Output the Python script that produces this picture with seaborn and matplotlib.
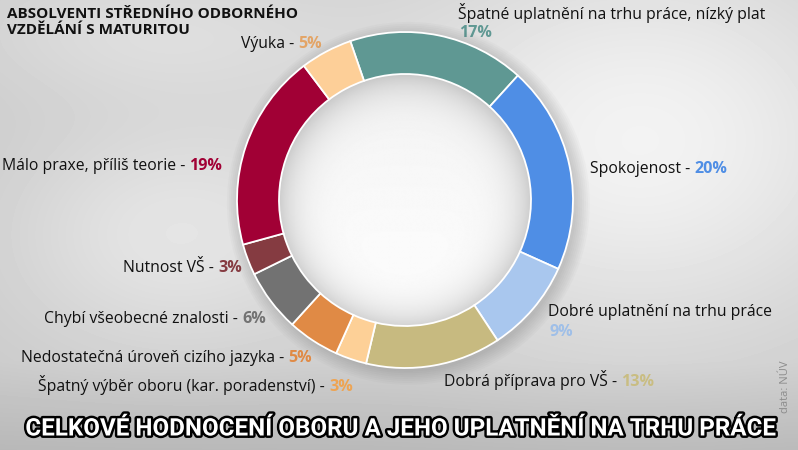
import numpy as np
import matplotlib
matplotlib.use("Agg")
import matplotlib.pyplot as plt
import matplotlib.patheffects as pe
from matplotlib.patches import Circle
import seaborn as sns

# ---------------- data ----------------
categories = [
    "Špatné uplatnění na trhu práce, nízký plat",
    "Spokojenost",
    "Dobré uplatnění na trhu práce",
    "Dobrá příprava pro VŠ",
    "Špatný výběr oboru (kar. poradenství)",
    "Nedostatečná úroveň cizího jazyka",
    "Chybí všeobecné znalosti",
    "Nutnost VŠ",
    "Málo praxe, příliš teorie",
    "Výuka",
]
values = [17, 20, 9, 13, 3, 5, 6, 3, 19, 5]
wedge_colors = ["#5f9893", "#4f8ee5", "#a9c7ee", "#c7ba80", "#fdd097",
                "#e08a45", "#727272", "#853b41", "#a10035", "#fdcf98"]
pct_colors = ["#5f9893", "#4f8ee5", "#9fbfe8", "#c9bd82", "#eea452",
              "#e08a45", "#727272", "#853b41", "#a10035", "#e3a466"]
title_lines = ["ABSOLVENTI STŘEDNÍHO ODBORNÉHO", "VZDĚLÁNÍ S MATURITOU"]
bottom_title = "CELKOVÉ HODNOCENÍ OBORU A JEHO UPLATNĚNÍ NA TRHU PRÁCE"
source = "data: NÚV"

# label layout in pixels: (x, y, mode) ; mode: L=left inline, R=right inline, 2=two-line
layout = [
    (458, 13, "2"),
    (590, 169, "L"),
    (548, 312, "2"),
    (444, 380, "L"),
    (353, 387, "R"),
    (312, 358, "R"),
    (266, 319, "R"),
    (242, 268, "R"),
    (222, 166, "R"),
    (322, 44, "R"),
]

sns.set_style("white")
plt.rcParams["font.family"] = ["Open Sans", "DejaVu Sans"]

W, H = 798, 450
fig = plt.figure(figsize=(W / 100, H / 100), dpi=100)

# background
bg = fig.add_axes([0, 0, 1, 1])
yy, xx = np.mgrid[0:H, 0:W].astype(float)
shade = (0.79
         + 0.16 * np.exp(-((xx - 640) / 260) ** 2 - ((yy - 140) / 200) ** 2)
         + 0.10 * np.exp(-((xx - 170) / 170) ** 2 - ((yy - 235) / 120) ** 2)
         + 0.07 * np.exp(-((xx - 150) / 200) ** 2 - ((yy - 30) / 70) ** 2)
         - 0.07 * np.clip((yy - 360) / 90, 0, 1))
bg.imshow(np.clip(shade, 0, 1), cmap="gray", vmin=0, vmax=1,
          extent=[0, W, H, 0], aspect="auto", interpolation="bilinear")
bg.set_xlim(0, W)
bg.set_ylim(H, 0)
bg.axis("off")

# donut axes
cx, cy, R = 405, 200, 168
half = 185
lim = half / R
pax = fig.add_axes([(cx - half) / W, (H - cy - half) / H, 2 * half / W, 2 * half / H])
pax.set_xlim(-lim, lim)
pax.set_ylim(-lim, lim)
pax.axis("off")

# soft shadow around ring
for rr in np.linspace(1.08, 1.0, 8):
    pax.add_patch(Circle((0.02, -0.02), rr, color="#555555", alpha=0.03, lw=0, zorder=0))

# inner disc gradient
g = np.linspace(-1, 1, 400)
gx, gy = np.meshgrid(g, g)
r = np.sqrt(gx ** 2 + gy ** 2)
inner = 0.975 - 0.17 * np.clip(r / 0.75, 0, 1) ** 6 - 0.03 * gy
im = pax.imshow(inner, cmap="gray", vmin=0, vmax=1, extent=[-1, 1, -1, 1],
                origin="lower", zorder=1, interpolation="bilinear")
im.set_clip_path(Circle((0, 0), 0.75, transform=pax.transData))

palette = sns.color_palette(wedge_colors)
pax.pie(values, colors=palette, startangle=109, counterclock=False, radius=1.0,
        wedgeprops=dict(width=0.25, edgecolor="white", linewidth=1.3, zorder=2))
pax.set_xlim(-lim, lim)
pax.set_ylim(-lim, lim)

# labels
fs = 11.3
for cat, val, pc, (x, y, mode) in zip(categories, values, pct_colors, layout):
    pct = f"{val}%"
    if mode == "2":
        bg.text(x, y, cat, ha="left", va="center", fontsize=fs, color="#111111")
        bg.text(x + 1, y + 20, pct, ha="left", va="center", fontsize=fs + 0.3,
                fontweight="bold", color=pc)
    elif mode == "L":
        t1 = bg.text(x, y, cat + " - ", ha="left", va="center", fontsize=fs, color="#111111")
        bg.annotate(pct, xy=(1, 0), xycoords=t1, ha="left", va="bottom",
                    fontsize=fs + 0.3, fontweight="bold", color=pc)
    else:
        t2 = bg.text(x, y, pct, ha="right", va="center", fontsize=fs + 0.3,
                     fontweight="bold", color=pc)
        bg.annotate(cat + " - ", xy=(0, 0), xycoords=t2, ha="right", va="bottom",
                    fontsize=fs, color="#111111")

for i, line in enumerate(title_lines):
    bg.text(7, 14 + 16 * i, line, ha="left", va="center", fontsize=11,
            fontweight="bold", color="#111111")

bt = bg.text(399, 429, bottom_title, ha="center", va="center", fontsize=16,
             fontweight="bold", color="white", family=["Roboto", "DejaVu Sans"],
             path_effects=[pe.Stroke(linewidth=3.5, foreground="black"), pe.Normal()])
fig.canvas.draw()
wpx = bt.get_window_extent(renderer=fig.canvas.get_renderer()).width
bt.set_fontsize(16 * 750 / wpx)

bg.text(786, 387, source, ha="center", va="center", rotation=90, fontsize=8,
        color="#8c8c8c")

fig.savefig("out.png", dpi=100)
